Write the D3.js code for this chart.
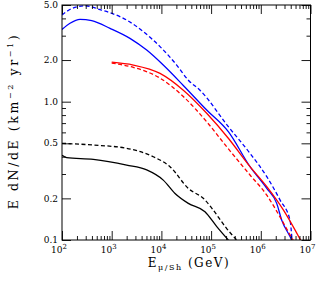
<!DOCTYPE html>
<html>
<head>
<meta charset="utf-8">
<script src="https://cdn.jsdelivr.net/npm/d3@7"></script>
<style>
  body { margin: 0; background: #fff; }
  svg { display: block; }
  text { font-family: "DejaVu Serif", serif; fill: #000; }
</style>
</head>
<body>
<div id="chart"></div>
<script>
// values (energy in GeV, E dN/dE in km^-2 yr^-1)
const blueDashedE = [100, 158, 290, 582, 925, 2000, 4320, 9380, 20300, 34800, 59800, 222000, 607000, 1.32e6, 2.43e6, 3.87e6, 4.25e6];
const blueDashedY = [4.23, 4.72, 4.94, 4.63, 4.40, 3.89, 3.21, 2.50, 1.84, 1.43, 1.21, 0.66, 0.423, 0.287, 0.195, 0.139, 0.1];

const blueSolidE = [100, 145, 230, 396, 925, 2330, 5060, 10900, 27600, 81500, 222000, 607000, 1.32e6, 2.09e6, 2.64e6, 3.87e6, 4.19e6];
const blueSolidY = [3.33, 3.69, 3.94, 3.85, 3.39, 2.87, 2.36, 1.84, 1.31, 0.87, 0.607, 0.339, 0.236, 0.184, 0.139, 0.106, 0.1];

const redSolidE = [1000, 2720, 9380, 27600, 81500, 222000, 607000, 1.32e6, 2.84e6, 6.3e6];
const redSolidY = [1.93, 1.84, 1.60, 1.21, 0.824, 0.544, 0.339, 0.243, 0.165, 0.1];

const redDashedE = [1000, 2720, 9380, 27600, 81500, 206000, 607000, 1.32e6, 2.43e6, 3.87e6, 4.47e6];
const redDashedY = [1.90, 1.77, 1.48, 1.09, 0.716, 0.472, 0.295, 0.211, 0.147, 0.109, 0.1];

const blackDashedE = [100, 427, 2000, 6870, 14900, 34800, 75300, 103000, 206000, 327000];
const blackDashedY = [0.50, 0.486, 0.460, 0.400, 0.339, 0.236, 0.195, 0.170, 0.121, 0.1];

const blackSolidE = [100, 124, 427, 2000, 5060, 10900, 18800, 34800, 75300, 130000, 222000];
const blackSolidY = [0.41, 0.394, 0.383, 0.348, 0.321, 0.271, 0.217, 0.184, 0.160, 0.125, 0.1];

const xMajor = [1e2, 1e3, 1e4, 1e5, 1e6, 1e7];
const xExponents = ["2", "3", "4", "5", "6", "7"];
const yMajor = [0.1, 0.2, 0.5, 1, 2, 5];
const yLabels = ["0.1", "0.2", "0.5", "1.0", "2.0", "5.0"];
const yMinor = [0.3, 0.4, 0.6, 0.7, 0.8, 0.9, 3, 4];

const series = [
    { e: blueDashedE,  v: blueDashedY,  color: "#0000ff", dash: "4,2.5" },
    { e: blueSolidE,   v: blueSolidY,   color: "#0000ff", dash: null },
    { e: redDashedE,   v: redDashedY,   color: "#ff0000", dash: "4,2.5" },
    { e: redSolidE,    v: redSolidY,    color: "#ff0000", dash: null },
    { e: blackDashedE, v: blackDashedY, color: "#000000", dash: "4,2.5" },
    { e: blackSolidE,  v: blackSolidY,  color: "#000000", dash: null }
];

const W = 318, H = 281;
const margin = { top: 5, right: 7.5, bottom: 41, left: 62 };
const width = W - margin.left - margin.right;
const height = H - margin.top - margin.bottom;

const svg = d3.select("#chart").append("svg")
    .attr("width", W)
    .attr("height", H);

const g = svg.append("g")
    .attr("transform", `translate(${margin.left}, ${margin.top})`);

const x = d3.scaleLog().domain([1e2, 1e7]).range([0, width]);
const y = d3.scaleLog().domain([0.1, 5]).range([height, 0]);

// minor x ticks: 2..9 in every decade
const xMinor = [];
for (let d = 2; d < 7; d++) {
    for (let m = 2; m <= 9; m++) xMinor.push(m * Math.pow(10, d));
}

g.append("clipPath").attr("id", "clip")
    .append("rect").attr("width", width).attr("height", height);

const line = d3.line()
    .x(d => x(d[0]))
    .y(d => y(d[1]))
    .curve(d3.curveMonotoneX);

g.append("g").attr("clip-path", "url(#clip)")
    .selectAll("path")
    .data(series)
    .join("path")
    .attr("d", s => line(s.e.map((e, i) => [e, s.v[i]])))
    .attr("fill", "none")
    .attr("stroke", s => s.color)
    .attr("stroke-width", 1.3)
    .attr("stroke-dasharray", s => s.dash);

// ticks on all four sides, pointing inward
function addAxis(axisFn, scale, vals, size, transform) {
    const a = g.append("g")
        .attr("transform", transform)
        .call(axisFn(scale).tickValues(vals).tickSize(-size).tickFormat(""));
    a.select(".domain").remove();
    a.selectAll("line").attr("stroke", "#000").attr("stroke-width", 0.9);
    return a;
}
addAxis(d3.axisBottom, x, xMajor, 9, `translate(0, ${height})`);
addAxis(d3.axisBottom, x, xMinor, 4, `translate(0, ${height})`);
addAxis(d3.axisTop, x, xMajor, 9, "translate(0, 0)");
addAxis(d3.axisTop, x, xMinor, 4, "translate(0, 0)");
addAxis(d3.axisLeft, y, yMajor, 9, "translate(0, 0)");
addAxis(d3.axisLeft, y, yMinor, 4, "translate(0, 0)");
addAxis(d3.axisRight, y, yMajor, 9, `translate(${width}, 0)`);
addAxis(d3.axisRight, y, yMinor, 4, `translate(${width}, 0)`);

g.append("rect")
    .attr("width", width).attr("height", height)
    .attr("fill", "none").attr("stroke", "#000").attr("stroke-width", 1);

// y tick labels
g.selectAll(".ylab")
    .data(yMajor)
    .join("text")
    .attr("class", "ylab")
    .attr("x", -4)
    .attr("y", d => y(d))
    .attr("dy", "0.35em")
    .attr("text-anchor", "end")
    .style("font-size", "9px")
    .text((d, i) => yLabels[i]);

// x tick labels with superscript exponent
const xl = g.selectAll(".xlab")
    .data(xMajor)
    .join("text")
    .attr("class", "xlab")
    .attr("x", d => x(d) - 3)
    .attr("y", height + 12.5)
    .attr("text-anchor", "middle")
    .style("font-size", "9px");
xl.append("tspan").text("10");
xl.append("tspan")
    .attr("dy", -4)
    .style("font-size", "7px")
    .text((d, i) => xExponents[i]);

// x axis title
const xt = svg.append("text")
    .attr("x", 189)
    .attr("y", 267)
    .attr("text-anchor", "middle")
    .style("font-size", "12px")
    .style("letter-spacing", "1.5px");
xt.append("tspan").text("E");
xt.append("tspan").attr("dy", 3).style("font-size", "8px").text("\u03bc/Sh");
xt.append("tspan").attr("dy", -3).text(" (GeV)");

// y axis title
const yt = svg.append("text")
    .attr("transform", "translate(18, 121) rotate(-90)")
    .attr("text-anchor", "middle")
    .style("font-size", "12.5px")
    .style("letter-spacing", "2.6px");
yt.append("tspan").text("E dN/dE (km");
yt.append("tspan").attr("dy", -5).style("font-size", "8px").text("\u22122");
yt.append("tspan").attr("dy", 5).text(" yr");
yt.append("tspan").attr("dy", -5).style("font-size", "8px").text("\u22121");
yt.append("tspan").attr("dy", 5).text(")");
</script>
</body>
</html>
